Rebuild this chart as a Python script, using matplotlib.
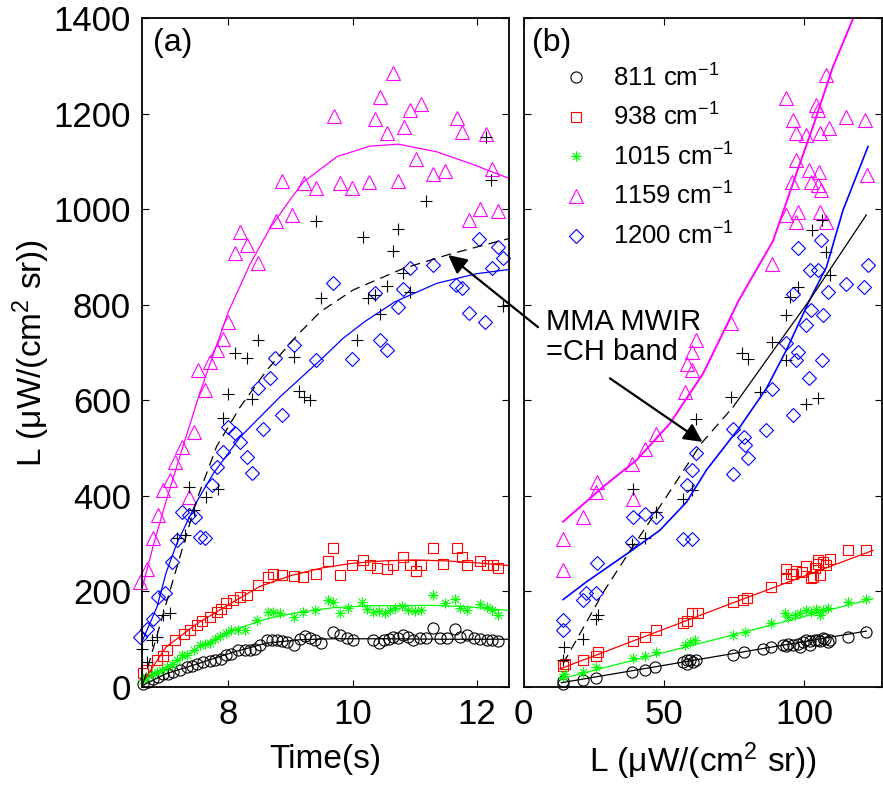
import matplotlib

matplotlib.use("Agg")
import matplotlib.pyplot as plt
from matplotlib.lines import Line2D
from matplotlib.path import Path

plt.rcParams["font.family"] = ["Liberation Sans", "DejaVu Sans"]
plt.rcParams["mathtext.fontset"] = "custom"
plt.rcParams["mathtext.rm"] = "Liberation Sans"
plt.rcParams["mathtext.it"] = "Liberation Sans:italic"
plt.rcParams["mathtext.bf"] = "Liberation Sans:bold"

# ---- panel (a): radiance vs time ----
circ_t = [6.63, 6.71, 6.79, 6.87, 6.95, 7.03, 7.11, 7.22, 7.33, 7.41, 7.49, 7.60, 7.70, 7.79, 7.89,
          7.97, 8.05, 8.16, 8.27, 8.35, 8.43, 8.51, 8.62, 8.70, 8.78, 8.86, 8.94, 9.05, 9.15, 9.23,
          9.32, 9.40, 9.50, 9.69, 9.80, 9.91, 10.01, 10.33, 10.42, 10.50, 10.58, 10.66, 10.74, 10.82,
          10.90, 10.98, 11.09, 11.19, 11.30, 11.41, 11.52, 11.65, 11.73, 11.84, 11.95, 12.05, 12.16,
          12.24, 12.35]
circ_L = [7, 10, 17, 22, 27, 28, 32, 35, 41, 45, 49, 52, 55, 56, 59,
          66, 70, 77, 78, 77, 80, 87, 98, 99, 98, 96, 94, 87, 101, 106,
          103, 99, 92, 115, 108, 103, 98, 98, 92, 98, 101, 105, 103, 108,
          105, 98, 103, 103, 124, 103, 103, 121, 105, 108, 103, 101, 99,
          98, 96]

sq_t = [6.63, 6.68, 6.85, 6.95, 7.01, 7.14, 7.28, 7.38, 7.49, 7.57, 7.70, 7.81, 7.89, 7.97, 8.08,
        8.19, 8.30, 8.48, 8.64, 8.72, 8.86, 9.05, 9.21, 9.42, 9.61, 9.69, 9.80, 9.99, 10.17, 10.28,
        10.39, 10.55, 10.66, 10.82, 10.93, 11.03, 11.11, 11.30, 11.46, 11.68, 11.76, 11.84, 12.05,
        12.16, 12.27, 12.35]
sq_L = [29, 36, 56, 64, 77, 98, 110, 119, 129, 138, 147, 157, 164, 175, 182,
        189, 192, 214, 230, 237, 234, 232, 230, 236, 263, 290, 234, 255, 265, 255,
        250, 248, 255, 272, 255, 243, 255, 290, 258, 290, 272, 255, 264,
        255, 255, 250]

star_t = [6.62, 6.68, 6.77, 6.85, 6.93, 7.01, 7.09, 7.17, 7.25, 7.33, 7.44, 7.54, 7.62, 7.70, 7.79,
          7.87, 7.97, 8.05, 8.16, 8.27, 8.46, 8.64, 8.72, 8.83, 9.05, 9.21, 9.40, 9.61, 9.69, 9.80,
          9.93, 10.15, 10.23, 10.33, 10.42, 10.52, 10.60, 10.68, 10.79, 10.90, 11.01, 11.11, 11.30,
          11.49, 11.65, 11.73, 11.84, 12.05, 12.16, 12.24, 12.35]
star_L = [14, 21, 27, 32, 36, 42, 49, 56, 66, 68, 78, 87, 91, 92, 101,
          106, 113, 119, 120, 120, 140, 157, 157, 154, 147, 157, 162, 183, 178, 154,
          166, 178, 164, 157, 160, 155, 162, 166, 169, 162, 159, 162, 193,
          176, 185, 166, 162, 173, 168, 162, 150]

tri_t = [6.58, 6.69, 6.79, 6.87, 6.95, 7.06, 7.14, 7.25, 7.36, 7.44, 7.52, 7.62, 7.71, 7.81, 7.92,
         8.00, 8.11, 8.19, 8.30, 8.48, 8.77, 8.86, 9.02, 9.22, 9.42, 9.70, 9.80, 9.99, 10.27, 10.36,
         10.44, 10.55, 10.65, 10.74, 10.83, 10.93, 11.02, 11.11, 11.30, 11.49, 11.68, 11.77, 11.87,
         12.05, 12.15, 12.24, 12.34]
tri_L = [220, 248, 311, 360, 412, 433, 471, 503, 398, 534, 663, 621, 680, 705, 729,
         764, 909, 953, 925, 888, 976, 1059, 988, 1054, 1044, 1195, 1054, 1044, 1056, 1188,
         1235, 1160, 1284, 1059, 1171, 1207, 1104, 1221, 1073, 1080, 1190, 1162, 977,
         1000, 1157, 1084, 996]

dia_t = [6.58, 6.69, 6.79, 6.87, 6.98, 7.09, 7.17, 7.25, 7.36, 7.46, 7.54, 7.62, 7.73, 7.81, 7.92,
         8.00, 8.11, 8.19, 8.30, 8.38, 8.48, 8.56, 8.67, 8.75, 8.86, 9.05, 9.42, 9.69, 9.99, 10.36,
         10.44, 10.55, 10.74, 10.82, 10.93, 11.29, 11.67, 11.76, 11.87, 12.04, 12.13, 12.24, 12.34,
         12.43]
dia_L = [105, 122, 143, 188, 196, 262, 307, 366, 360, 356, 314, 311, 422, 461, 492,
         544, 531, 513, 482, 447, 625, 541, 646, 688, 569, 715, 684, 846, 686, 825,
         727, 706, 796, 834, 877, 884, 841, 836, 782, 937, 764, 876, 921,
         897]

plus_t = [6.61, 6.69, 6.77, 6.85, 6.95, 7.06, 7.17, 7.30, 7.36, 7.44, 7.64, 7.84, 7.92, 8.00, 8.10,
          8.30, 8.38, 8.48, 9.05, 9.14, 9.22, 9.32, 9.42, 9.50, 10.07, 10.17, 10.25, 10.36, 10.45,
          10.55, 10.65, 10.74, 10.81, 10.93, 11.19, 12.15, 12.23, 12.43]
plus_L = [80, 52, 98, 105, 150, 154, 311, 318, 419, 370, 398, 415, 564, 613, 698,
          688, 602, 726, 690, 620, 607, 600, 976, 815, 727, 942, 815, 820, 780,
          840, 913, 958, 866, 827, 1017, 1152, 1061, 797]

# fitted curves, panel (a)
fit_circ_t = [6.61, 7.0, 7.54, 8.08, 8.62, 9.15, 9.69, 10.5, 11.5, 12.53]
fit_circ_L = [3, 28, 50, 73, 92, 99, 101, 101, 100, 100]
fit_sq_t = [6.61, 7.0, 7.5, 8.0, 8.5, 9.0, 9.5, 10.0, 10.5, 11.0, 11.5, 12.0, 12.53]
fit_sq_L = [8, 84, 133, 172, 210, 233, 249, 259, 264, 266, 264, 260, 254]
fit_star_t = [6.61, 7.01, 7.54, 8.08, 8.62, 9.15, 9.69, 10.23, 11.30, 11.84, 12.53]
fit_star_L = [10, 42, 84, 119, 143, 157, 166, 170, 171, 168, 160]
fit_tri_t = [6.61, 6.8, 7.0, 7.25, 7.54, 8.0, 8.35, 8.67, 8.99, 9.21, 9.75, 10.28, 10.74, 11.36, 11.89, 12.53]
fit_tri_L = [205, 300, 390, 495, 615, 785, 885, 960, 1019, 1057, 1110, 1132, 1136, 1120, 1096, 1064]
fit_dia_t = [6.61, 6.85, 7.0, 7.17, 7.5, 7.76, 8.19, 8.83, 9.48, 9.85, 10.2, 10.68, 11.36, 12.0, 12.53]
fit_dia_L = [95, 167, 240, 300, 390, 447, 523, 607, 684, 730, 765, 806, 845, 865, 874]
fit_plus_t = [6.63, 7.0, 7.49, 7.81, 8.19, 8.62, 9.1, 9.48, 10.01, 10.82, 11.57, 12.53]
fit_plus_L = [8, 175, 391, 503, 586, 663, 735, 785, 831, 876, 906, 939]

# ---- panel (b): radiance vs radiance ----
cb_x = [13.9, 14.1, 21.3, 25.8, 38.5, 43.2, 46.8, 56.7, 58.1, 58.1, 59.5, 60.5, 61.6, 74.5, 78.5,
        85.2, 88.4, 92.5, 93.7, 94.3, 96.1, 97.9, 98.5, 99.6, 100.8, 102.0, 102.0, 103.8, 105.0,
        105.6, 106.8, 107.4, 108.6, 109.2, 115.7, 122.2]
cb_L = [7, 13, 15, 19, 31, 36, 42, 52, 56, 49, 56, 52, 57, 68, 73,
        80, 84, 87, 85, 91, 87, 91, 84, 94, 98, 96, 89, 98, 99,
        96, 103, 101, 94, 98, 105, 115]

sb_x = [13.9, 14.7, 21.3, 26.0, 26.6, 39.1, 43.2, 47.4, 56.9, 58.1, 59.9, 62.2, 74.5, 78.3, 79.5,
        88.4, 93.7, 93.7, 95.5, 96.1, 97.3, 99.1, 100.8, 102.6, 103.2, 103.8, 105.0, 105.0, 105.6,
        106.8, 108.0, 109.2, 115.7, 122.2]
sb_L = [43, 49, 56, 64, 73, 96, 105, 120, 134, 138, 155, 155, 178, 183, 187,
        209, 229, 248, 236, 237, 243, 241, 253, 229, 230, 250, 258, 265, 234,
        262, 255, 267, 286, 286]

stb_x = [14.1, 14.4, 21.3, 26.0, 39.1, 43.2, 47.4, 57.5, 59.3, 61.0, 74.7, 78.9, 88.4, 93.1, 94.3,
         96.7, 98.5, 100.8, 102.6, 104.4, 105.6, 106.8, 108.6, 115.7, 122.2]
stb_L = [21, 27, 31, 41, 61, 64, 73, 87, 94, 99, 108, 115, 133, 155, 147,
         150, 154, 161, 157, 164, 150, 161, 166, 178, 185]

tb_x = [13.9, 14.1, 21.3, 26.0, 26.2, 38.5, 39.1, 43.2, 47.4, 57.5, 58.1, 59.9, 59.9, 61.6, 74.1,
        88.7, 93.7, 93.7, 95.8, 96.1, 97.0, 97.0, 97.3, 97.9, 100.8, 101.8, 102.6, 104.4, 105.0,
        105.0, 105.4, 105.6, 105.6, 106.2, 107.7, 108.0, 108.9, 115.1, 121.6, 122.5]
tb_L = [244, 309, 356, 408, 429, 467, 394, 499, 530, 618, 677, 701, 663, 726, 761,
        886, 988, 1232, 1057, 1186, 974, 1103, 1159, 995, 1155, 1082, 1057, 1218, 1207,
        1050, 1078, 1159, 995, 1040, 1281, 974, 1169, 1193, 1186, 1071]

db_x = [13.9, 14.1, 21.3, 22.4, 25.8, 26.2, 38.5, 39.1, 43.2, 47.4, 56.9, 58.1, 59.9, 60.2, 61.6,
        74.5, 74.5, 78.5, 78.9, 80.1, 86.6, 88.7, 93.7, 96.1, 96.1, 97.0, 97.9, 97.9, 100.8,
        101.8, 102.0, 102.6, 105.0, 106.2, 106.5, 106.8, 108.6, 115.1, 121.3, 122.8]
db_L = [119, 140, 182, 197, 197, 260, 304, 356, 363, 356, 309, 422, 454, 309, 490,
        541, 445, 523, 506, 480, 537, 623, 719, 569, 823, 684, 701, 918, 757,
        646, 872, 789, 872, 935, 684, 778, 827, 844, 838, 883]

pb_x = [13.9, 14.4, 21.3, 25.8, 26.6, 38.5, 43.2, 47.4, 56.9, 59.9, 39.1, 61.6, 74.1, 84.4, 100.8,
        105.0, 78.0, 80.1, 88.7, 93.7, 93.7, 94.9, 97.9, 103.0, 106.5, 107.7, 109.2]
pb_L = [56, 84, 101, 143, 150, 300, 311, 366, 394, 412, 415, 560, 607, 618, 593,
        604, 698, 687, 722, 684, 778, 816, 838, 956, 977, 911, 862]

# fitted curves, panel (b)
fitb_circ_x = [13.5, 74.7, 122.2]
fitb_circ_L = [9, 70, 117]
fitb_sq_x = [13.0, 75.0, 124.6]
fitb_sq_L = [38, 177, 286]
fitb_star_x = [13.0, 74.7, 124.6]
fitb_star_L = [17, 109, 185]
fitb_tri_x = [14.1, 28.4, 40.3, 52.1, 64.0, 76.8, 88.9, 97.3, 103.2, 110.3, 117.5]
fitb_tri_L = [346, 419, 475, 551, 656, 810, 933, 1075, 1173, 1298, 1399]
fitb_dia_x = [14.1, 22.4, 37.9, 48.6, 58.1, 65.2, 77.1, 86.6, 93.7, 102.0, 108.0, 113.9, 122.8]
fitb_dia_L = [183, 220, 283, 328, 387, 454, 544, 625, 705, 810, 879, 998, 1131]
fitb_plus_dash_x = [14.1, 28.4, 38.5, 50.9, 63.4, 74.7]
fitb_plus_dash_L = [49, 198, 290, 398, 510, 586]
fitb_plus_solid_x = [74.7, 88.9, 102.0, 122.2]
fitb_plus_solid_L = [586, 703, 810, 988]

legend_labels = ["811 cm$^{-1}$", "938 cm$^{-1}$", "1015 cm$^{-1}$", "1159 cm$^{-1}$", "1200 cm$^{-1}$"]
ylabel = "L (\u03bcW/(cm$^{2}$ sr))"

MAGENTA = "#ff00ff"
BLUE = "#0000ff"
RED = "#ff0000"
GREEN = "#00ff00"
STAR = Path([(0, -1), (0, 1), (-1, 0), (1, 0), (-0.71, -0.71), (0.71, 0.71), (-0.71, 0.71), (0.71, -0.71)],
            [Path.MOVETO, Path.LINETO] * 4)

marks = {
    "circ": dict(marker="o", mec="k", ms=8.0),
    "sq": dict(marker="s", mec=RED, ms=7.2),
    "star": dict(marker=STAR, mec=GREEN, ms=7.5),
    "tri": dict(marker="^", mec=MAGENTA, ms=10.0),
    "dia": dict(marker="D", mec=BLUE, ms=6.9),
    "plus": dict(marker="+", mec="k", ms=9.0),
}


def pts(ax, x, y, key):
    ax.plot(x, y, ls="none", mfc="none", mew=0.8, clip_on=False, **marks[key])


def style_axes(ax):
    ax.tick_params(direction="in", length=5, width=0.8, top=True, right=True,
                   labelsize=25, pad=8)
    for s in ax.spines.values():
        s.set_linewidth(1.3)
    ax.set_ylim(0, 1400)
    ax.set_yticks(range(0, 1401, 200))


fig = plt.figure(figsize=(8.83, 7.85), dpi=100)
ax_a = fig.add_axes([0.1608, 0.1248, 0.4160, 0.8522])
ax_b = fig.add_axes([0.5929, 0.1248, 0.4063, 0.8522])

# panel (a)
pts(ax_a, circ_t, circ_L, "circ")
pts(ax_a, sq_t, sq_L, "sq")
pts(ax_a, star_t, star_L, "star")
pts(ax_a, tri_t, tri_L, "tri")
pts(ax_a, dia_t, dia_L, "dia")
pts(ax_a, plus_t, plus_L, "plus")
ax_a.plot(fit_circ_t, fit_circ_L, color="k", lw=0.9)
ax_a.plot(fit_sq_t, fit_sq_L, color=RED, lw=0.9)
ax_a.plot(fit_star_t, fit_star_L, color=GREEN, lw=0.9)
ax_a.plot(fit_tri_t, fit_tri_L, color=MAGENTA, lw=0.9)
ax_a.plot(fit_dia_t, fit_dia_L, color=BLUE, lw=0.9)
ax_a.plot(fit_plus_t, fit_plus_L, color="k", lw=0.9, ls=(0, (8, 5)))
style_axes(ax_a)
ax_a.set_xlim(6.61, 12.525)
ax_a.set_xticks([8, 10, 12])
ax_a.set_xlabel("Time(s)", fontsize=24, labelpad=9)
ax_a.set_ylabel(ylabel, fontsize=24, labelpad=1)
ax_a.text(0.03, 0.985, "(a)", transform=ax_a.transAxes, ha="left", va="top", fontsize=23)

# panel (b)
pts(ax_b, cb_x, cb_L, "circ")
pts(ax_b, sb_x, sb_L, "sq")
pts(ax_b, stb_x, stb_L, "star")
pts(ax_b, tb_x, tb_L, "tri")
pts(ax_b, db_x, db_L, "dia")
pts(ax_b, pb_x, pb_L, "plus")
ax_b.plot(fitb_circ_x, fitb_circ_L, color="k", lw=0.9)
ax_b.plot(fitb_sq_x, fitb_sq_L, color=RED, lw=0.9)
ax_b.plot(fitb_star_x, fitb_star_L, color=GREEN, lw=0.9)
ax_b.plot(fitb_tri_x, fitb_tri_L, color=MAGENTA, lw=1.4)
ax_b.plot(fitb_dia_x, fitb_dia_L, color=BLUE, lw=1.2)
ax_b.plot(fitb_plus_dash_x, fitb_plus_dash_L, color="k", lw=0.9, ls=(0, (8, 5)))
ax_b.plot(fitb_plus_solid_x, fitb_plus_solid_L, color="k", lw=0.9)
style_axes(ax_b)
ax_b.set_xlim(0, 127.9)
ax_b.set_xticks([0, 50, 100])
ax_b.tick_params(labelleft=False)
ax_b.set_xlabel(ylabel, fontsize=24, labelpad=7)
ax_b.text(0.025, 0.985, "(b)", transform=ax_b.transAxes, ha="left", va="top", fontsize=23)

handles = [Line2D([], [], ls="none", mfc="none", mew=0.8, **marks[k])
           for k in ["circ", "sq", "star", "tri", "dia"]]
ax_b.legend(handles, legend_labels, loc="upper left", bbox_to_anchor=(0.114, 0.931),
            frameon=False, fontsize=18.5, handlelength=0.9, handletextpad=1.0,
            labelspacing=0.48, borderpad=0, borderaxespad=0)

# annotation
arrow = dict(arrowstyle="-|>", color="k", lw=1.6, mutation_scale=28, shrinkA=0, shrinkB=0)
ax_b.text(7.9, 794, "MMA MWIR\n=CH band", ha="left", va="top", fontsize=21, linespacing=1.1)
ax_b.annotate("", xy=(11.54, 904), xycoords=ax_a.transData, xytext=(5.2, 753),
              textcoords="data", arrowprops=arrow, annotation_clip=False)
ax_b.annotate("", xy=(63.8, 513), xytext=(30.8, 646), arrowprops=arrow, annotation_clip=False)

fig.savefig("out.png", dpi=100)
